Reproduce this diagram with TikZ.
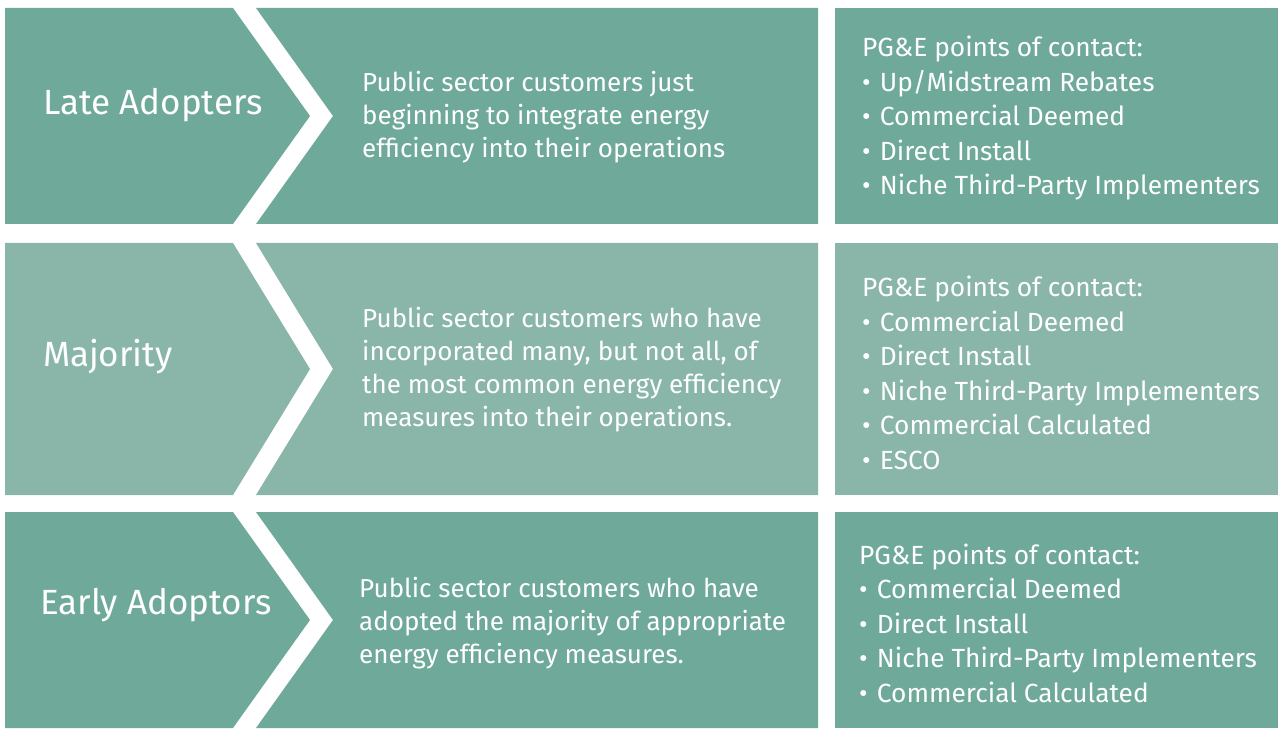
\documentclass[tikz,border=0pt]{standalone}
\usepackage{fontspec}
\setmainfont{Fira Sans}
\definecolor{tealdark}{RGB}{110,169,154}
\definecolor{teallight}{RGB}{137,182,168}
\newcommand{\cbul}{\textbullet\hspace{0.35em}}
\tikzset{
  stage/.style={anchor=west, inner sep=0pt, text=white, font=\fontsize{35}{40}\selectfont},
  desc/.style={anchor=west, inner sep=0pt, align=left, text=white, font=\fontsize{26}{33}\selectfont},
  contact/.style={anchor=west, inner sep=0pt, align=left, text=white, font=\fontsize{26.3}{34.5}\selectfont},
}
\begin{document}
\begin{tikzpicture}[x=1pt, y=-1pt]
  \useasboundingbox (0,0) rectangle (1280,730);
  % three rows: chevron, description, contacts
  \foreach \t/\b/\c in {8/224/tealdark, 243/495/teallight, 512/728/tealdark}{
    \pgfmathsetmacro{\m}{(\t+\b)/2}
    \fill[\c] (5,\t) -- (233,\t) -- (310,\m) -- (233,\b) -- (5,\b) -- cycle;
    \fill[\c] (256,\t) -- (818,\t) -- (818,\b) -- (256,\b) -- (333,\m) -- cycle;
    \fill[\c] (835,\t) rectangle (1278,\b);
  }
  % late adopters
  \node[stage] (late) at (43,105) {Late Adopters};
  \node[desc] (lateDesc) at (362,117) {Public sector customers just\\beginning to integrate energy\\efficiency into their operations};
  \node[contact] (lateContact) at (862,118.5) {PG\&E points of contact:\\
    \cbul Up/Midstream Rebates\\
    \cbul Commercial Deemed\\
    \cbul Direct Install\\
    \cbul Niche Third-Party Implementers};
  % majority
  \node[stage] (major) at (43,357) {Majority};
  \node[desc] (majorDesc) at (362,369.5) {Public sector customers who have\\incorporated many, but not all, of\\the most common energy efficiency\\measures into their operations.};
  \node[contact] (majorContact) at (862,373) {PG\&E points of contact:\\
    \cbul Commercial Deemed\\
    \cbul Direct Install\\
    \cbul Niche Third-Party Implementers\\
    \cbul Commercial Calculated\\
    \cbul ESCO};
  % early adoptors
  \node[stage] (early) at (40,605) {Early Adoptors};
  \node[desc] (earlyDesc) at (359,623) {Public sector customers who have\\adopted the majority of appropriate\\energy efficiency measures.};
  \node[contact] (earlyContact) at (859,623) {PG\&E points of contact:\\
    \cbul Commercial Deemed\\
    \cbul Direct Install\\
    \cbul Niche Third-Party Implementers\\
    \cbul Commercial Calculated};
\end{tikzpicture}
\end{document}
